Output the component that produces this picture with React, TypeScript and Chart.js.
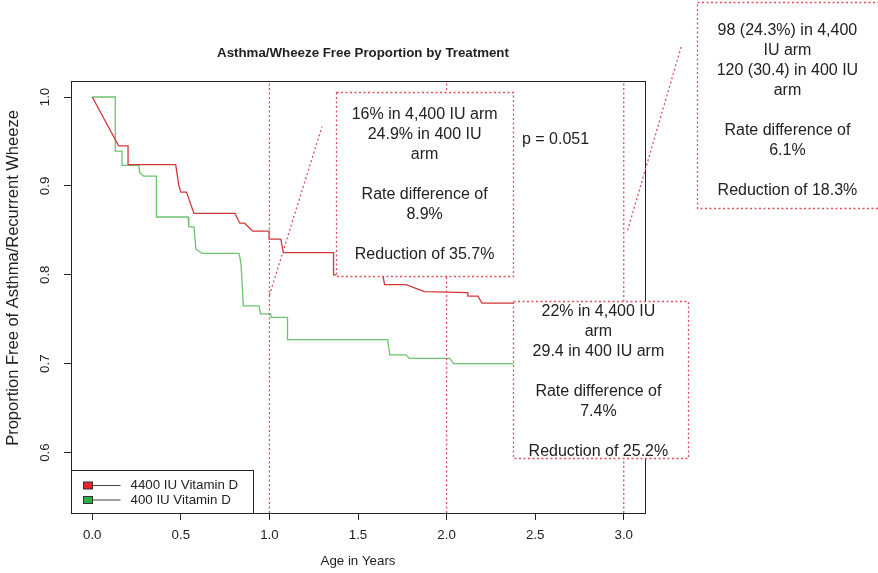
import React, { useEffect, useRef } from 'react';
import { Chart, registerables } from 'chart.js';

Chart.register(...registerables);

// ---------- data ----------
const chartTitle = 'Asthma/Wheeze Free Proportion by Treatment';
const xAxisTitle = 'Age in Years';
const yAxisTitle = 'Proportion Free of Asthma/Recurrent Wheeze';
const seriesLabels = ['4400 IU Vitamin D', '400 IU Vitamin D'];

const xTicks = [0, 0.5, 1, 1.5, 2, 2.5, 3];
const yTicks = [0.6, 0.7, 0.8, 0.9, 1.0];
const xLimits = [-0.12, 3.12];
const yLimits = [0.532, 1.018];

// 4400 IU arm (red) vertices
const highDoseTime = [0, 0.149, 0.202, 0.202, 0.471, 0.489, 0.5, 0.532, 0.574, 0.806, 0.832, 0.86, 0.906, 0.998, 0.998, 1.064, 1.079, 1.362, 1.362, 1.64, 1.65, 1.771, 1.875, 2.12, 2.12, 2.177, 2.2, 2.7];
const highDoseSurv = [1.0, 0.945, 0.945, 0.924, 0.924, 0.9, 0.893, 0.893, 0.869, 0.869, 0.858, 0.858, 0.849, 0.849, 0.84, 0.84, 0.825, 0.825, 0.8, 0.8, 0.789, 0.789, 0.781, 0.78, 0.776, 0.776, 0.768, 0.768];

// 400 IU arm (green) vertices
const lowDoseTime = [0, 0.13, 0.13, 0.168, 0.168, 0.262, 0.268, 0.29, 0.362, 0.362, 0.541, 0.545, 0.574, 0.585, 0.62, 0.828, 0.834, 0.84, 0.853, 0.941, 0.95, 1.007, 1.01, 1.102, 1.102, 1.667, 1.68, 1.771, 1.79, 2.017, 2.04, 2.7];
const lowDoseSurv = [1.0, 1.0, 0.939, 0.939, 0.923, 0.923, 0.915, 0.911, 0.911, 0.865, 0.865, 0.854, 0.854, 0.829, 0.824, 0.824, 0.819, 0.811, 0.765, 0.765, 0.756, 0.756, 0.752, 0.752, 0.727, 0.727, 0.71, 0.71, 0.706, 0.706, 0.7, 0.7];

const markerYears = [1, 2, 3];

// dotted connectors: [x0, y0, x1, y1]
const connectorA = [1.0, 0.777, 1.297, 0.967];
const connectorB = [3.022, 0.85, 3.327, 1.0585];

// annotation boxes: [xLeft, yTop, xRight, yBottom] and text anchor [x, y]
const boxRects = [
  [1.376, 1.006, 2.377, 0.799],
  [2.373, 0.771, 3.364, 0.594],
  [3.415, 1.107, 4.6, 0.875],
];
const boxAnchors = [
  [1.876, 0.9015],
  [2.857, 0.6794],
  [3.924, 0.985],
];
const boxTexts = [
  ['16% in 4,400 IU arm', '24.9% in 400 IU', 'arm', '', 'Rate difference of', '8.9%', '', 'Reduction of 35.7%'],
  ['22% in 4,400 IU', 'arm', '29.4 in 400 IU arm', '', 'Rate difference of', '7.4%', '', 'Reduction of 25.2%'],
  ['98 (24.3%) in 4,400', 'IU arm', '120 (30.4) in 400 IU', 'arm', '', 'Rate difference of', '6.1%', '', 'Reduction of 18.3%'],
];
const pValueText = 'p = 0.051';
const pValueAnchor = [2.615, 0.952];

// ---------- styles ----------
const FONT = '"Liberation Sans", Arial, Helvetica, sans-serif';
const INK = '#222222';
const RED_LINE = '#D2373B';
const GREEN_LINE = '#6CC46C';
const RED_FILL = '#E8262A';
const GREEN_FILL = '#2DB04A';
const DOT = '#E0505C';

const zip = (xs: number[], ys: number[]) => xs.map((x, i) => ({ x, y: ys[i] }));

const annotationPlugin = {
  id: 'rAnnotations',
  beforeDatasetsDraw(chart: any) {
    const { ctx, chartArea } = chart;
    ctx.save();
    ctx.strokeStyle = INK;
    ctx.lineWidth = 1;
    ctx.strokeRect(chartArea.left + 0.5, chartArea.top + 0.5, chartArea.right - chartArea.left, chartArea.bottom - chartArea.top);
    ctx.restore();
  },
  afterDatasetsDraw(chart: any) {
    const { ctx, chartArea } = chart;
    const xs = chart.scales.x;
    const ys = chart.scales.y;
    ctx.save();

    // boxes
    boxRects.forEach((r, i) => {
      const l = Math.round(xs.getPixelForValue(r[0])) + 0.5;
      const t = Math.round(ys.getPixelForValue(r[1])) + 0.5;
      const rr = Math.round(xs.getPixelForValue(r[2])) + 0.5;
      const b = Math.round(ys.getPixelForValue(r[3])) + 0.5;
      ctx.fillStyle = '#ffffff';
      ctx.fillRect(l, t, rr - l, b - t);
      ctx.setLineDash([2, 2.5]);
      ctx.strokeStyle = DOT;
      ctx.lineWidth = 1.3;
      ctx.strokeRect(l, t, rr - l, b - t);
      ctx.setLineDash([]);
      const lines = boxTexts[i];
      const cx = xs.getPixelForValue(boxAnchors[i][0]);
      const cy = ys.getPixelForValue(boxAnchors[i][1]);
      const lh = 20;
      ctx.fillStyle = INK;
      ctx.font = `16px ${FONT}`;
      ctx.textAlign = 'center';
      ctx.textBaseline = 'middle';
      lines.forEach((s, k) => {
        if (!s) return;
        ctx.fillText(s, cx, cy + (k - (lines.length - 1) / 2) * lh);
      });
    });

    // p-value
    ctx.fillStyle = INK;
    ctx.font = `16px ${FONT}`;
    ctx.textAlign = 'center';
    ctx.textBaseline = 'middle';
    ctx.fillText(pValueText, xs.getPixelForValue(pValueAnchor[0]), ys.getPixelForValue(pValueAnchor[1]));

    // y tick labels (rotated, R style)
    ctx.font = `13.3px ${FONT}`;
    yTicks.forEach((v) => {
      const py = ys.getPixelForValue(v);
      ctx.save();
      ctx.translate(chartArea.left - 26, py);
      ctx.rotate(-Math.PI / 2);
      ctx.fillText(v.toFixed(1), 0, 0);
      ctx.restore();
    });

    // y axis title
    ctx.save();
    ctx.font = `16.5px ${FONT}`;
    ctx.translate(13, (chartArea.top + chartArea.bottom) / 2 - 19);
    ctx.rotate(-Math.PI / 2);
    ctx.fillText(yAxisTitle, 0, 0);
    ctx.restore();

    // title
    ctx.font = `bold 13.3px ${FONT}`;
    ctx.fillText(chartTitle, (chartArea.left + chartArea.right) / 2 + 5, 53);

    // legend
    const lgL = chartArea.left + 0.5;
    const lgB = chartArea.bottom + 0.5;
    const lgW = 182;
    const lgH = 43;
    const lgT = lgB - lgH;
    ctx.fillStyle = '#ffffff';
    ctx.fillRect(lgL, lgT, lgW, lgH);
    ctx.strokeStyle = INK;
    ctx.lineWidth = 1;
    ctx.strokeRect(lgL, lgT, lgW, lgH);
    const fills = [RED_FILL, GREEN_FILL];
    seriesLabels.forEach((lab, i) => {
      const y = lgT + 15 + i * 14.5;
      ctx.strokeStyle = '#444';
      ctx.lineWidth = 1;
      ctx.beginPath();
      ctx.moveTo(lgL + 20, y);
      ctx.lineTo(lgL + 49, y);
      ctx.stroke();
      ctx.fillStyle = fills[i];
      ctx.fillRect(lgL + 12, y - 3.5, 9, 7);
      ctx.strokeStyle = '#333';
      ctx.strokeRect(lgL + 12, y - 3.5, 9, 7);
      ctx.fillStyle = INK;
      ctx.font = `13.3px ${FONT}`;
      ctx.textAlign = 'left';
      ctx.textBaseline = 'middle';
      ctx.fillText(lab, lgL + 59, y);
    });

    ctx.restore();
  },
};

export default function App() {
  const ref = useRef<HTMLCanvasElement>(null);

  useEffect(() => {
    const canvas = ref.current;
    if (!canvas) return;
    const dotted = {
      borderColor: DOT,
      borderWidth: 1.3,
      borderDash: [2, 2.5],
      pointRadius: 0,
      tension: 0,
      fill: false,
      order: 1,
    };
    const chart = new Chart(canvas, {
      type: 'line',
      data: {
        datasets: [
          {
            label: seriesLabels[0],
            data: zip(highDoseTime, highDoseSurv),
            borderColor: RED_LINE,
            borderWidth: 1.3,
            pointRadius: 0,
            tension: 0,
            fill: false,
            order: 2,
          },
          {
            label: seriesLabels[1],
            data: zip(lowDoseTime, lowDoseSurv),
            borderColor: GREEN_LINE,
            borderWidth: 1.3,
            pointRadius: 0,
            tension: 0,
            fill: false,
            order: 2,
          },
          ...markerYears.map((m) => ({
            ...dotted,
            label: 'marker',
            data: [
              { x: m, y: yLimits[0] },
              { x: m, y: yLimits[1] },
            ],
          })),
          {
            ...dotted,
            label: 'connectorA',
            data: [
              { x: connectorA[0], y: connectorA[1] },
              { x: connectorA[2], y: connectorA[3] },
            ],
          },
          {
            ...dotted,
            label: 'connectorB',
            clip: false,
            data: [
              { x: connectorB[0], y: connectorB[1] },
              { x: connectorB[2], y: connectorB[3] },
            ],
          },
        ] as any,
      },
      options: {
        responsive: false,
        animation: false,
        devicePixelRatio: 1,
        layout: { padding: { left: 0, top: 81, right: 233, bottom: 0 } },
        plugins: {
          legend: { display: false },
          tooltip: { enabled: false },
          title: { display: false },
        },
        scales: {
          x: {
            type: 'linear',
            min: xLimits[0],
            max: xLimits[1],
            afterBuildTicks: (s: any) => {
              s.ticks = xTicks.map((v) => ({ value: v }));
            },
            afterFit: (s: any) => {
              s.height = 60;
            },
            border: { display: false },
            grid: { drawOnChartArea: false, drawTicks: true, tickLength: 7, color: INK, lineWidth: 1 },
            ticks: {
              autoSkip: false,
              maxRotation: 0,
              padding: 7,
              color: INK,
              font: { family: FONT, size: 13.3 },
              callback: (v: any) => Number(v).toFixed(1),
            },
            title: {
              display: true,
              text: xAxisTitle,
              color: INK,
              font: { family: FONT, size: 13.3 },
              padding: { top: 0, bottom: 4 },
            },
          },
          y: {
            type: 'linear',
            min: yLimits[0],
            max: yLimits[1],
            afterBuildTicks: (s: any) => {
              s.ticks = yTicks.map((v) => ({ value: v }));
            },
            afterFit: (s: any) => {
              s.width = 71;
            },
            border: { display: false },
            grid: { drawOnChartArea: false, drawTicks: true, tickLength: 7, color: INK, lineWidth: 1 },
            ticks: { display: false },
            title: { display: false },
          },
        },
      } as any,
      plugins: [annotationPlugin],
    });
    return () => chart.destroy();
  }, []);

  return (
    <div style={{ position: 'fixed', left: 0, top: 0, width: 878, height: 573, background: '#fff' }}>
      <canvas ref={ref} width={878} height={573} style={{ display: 'block', width: 878, height: 573 }} />
    </div>
  );
}
